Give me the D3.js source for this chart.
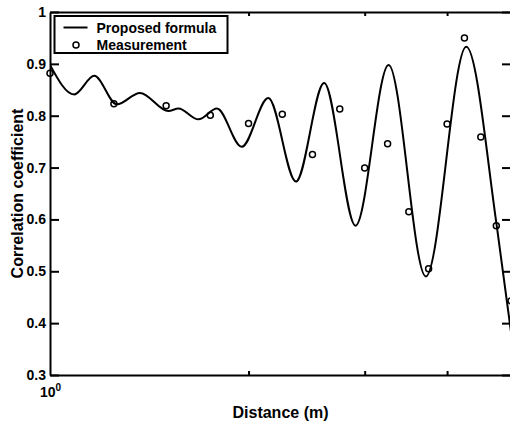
<!DOCTYPE html>
<html>
<head>
<meta charset="utf-8">
<script src="https://cdn.jsdelivr.net/npm/d3@7"></script>
<style>
  body { margin: 0; background: white; }
  text { font-family: 'Liberation Sans', Arial, sans-serif; font-weight: bold; fill: black; }
  .axis path, .axis line { stroke: black; }
  .axis path { stroke-width: 2; }
  .axis line { stroke-width: 2; }
</style>
</head>
<body>
<script>
// measured points (distance in m, correlation)
const measDist = [1, 1.25, 1.5, 1.75, 2, 2.25, 2.5, 2.75, 3, 3.25, 3.5, 3.75, 4, 4.25, 4.5, 4.75, 5]
const measCorr = [0.882, 0.823, 0.819, 0.801, 0.785, 0.803, 0.725, 0.813, 0.699, 0.746, 0.615, 0.505, 0.784, 0.950, 0.759, 0.588, 0.443]

const curveDist = [1, 1.088, 1.167, 1.263, 1.369, 1.512, 1.566, 1.679, 1.791, 1.953, 2.143, 2.36, 2.604, 2.906, 3.261, 3.714, 4.277, 4.757, 5]
const curveCorr = [0.898, 0.841, 0.877, 0.822, 0.844, 0.809, 0.814, 0.793, 0.814, 0.740, 0.834, 0.673, 0.863, 0.588, 0.898, 0.490, 0.933, 0.588, 0.383]

const yTickValues = [0.3, 0.4, 0.5, 0.6, 0.7, 0.8, 0.9, 1]
const xMinorTicks = [2, 3, 4]

var margin = { top: 12, right: -1, bottom: 50, left: 50 }
let width = 510 - margin.left - margin.right
let height = 425 - margin.top - margin.bottom

let svg = d3
  .select('body')
  .append('svg')
  .attr('width', 510)
  .attr('height', 425)
  .style('display', 'block')
  .append('g')
  .attr('transform', 'translate(' + margin.left + ',' + margin.top + ')')

const xPositionScale = d3.scaleLog().domain([1, 5]).range([0, width])
const yPositionScale = d3.scaleLinear().domain([0.3, 1]).range([height, 0])

svg
  .append('clipPath')
  .attr('id', 'plot-clip')
  .append('rect')
  .attr('width', width)
  .attr('height', height)

// box axes, ticks pointing inward
svg
  .append('g')
  .attr('class', 'axis y-axis')
  .call(
    d3
      .axisLeft(yPositionScale)
      .tickValues(yTickValues)
      .tickSize(-9)
      .tickSizeOuter(0)
      .tickPadding(4)
      .tickFormat(d => String(d))
  )
  .selectAll('text')
  .attr('font-size', 14)

svg
  .append('g')
  .attr('class', 'axis')
  .attr('transform', 'translate(' + width + ',0)')
  .call(
    d3
      .axisRight(yPositionScale)
      .tickValues(yTickValues)
      .tickSize(-9)
      .tickSizeOuter(0)
      .tickFormat('')
  )

svg
  .append('g')
  .attr('class', 'axis')
  .attr('transform', 'translate(0,' + height + ')')
  .call(
    d3
      .axisBottom(xPositionScale)
      .tickValues(xMinorTicks)
      .tickSize(-4)
      .tickSizeOuter(0)
      .tickFormat('')
  )

svg
  .append('g')
  .attr('class', 'axis')
  .call(
    d3
      .axisTop(xPositionScale)
      .tickValues(xMinorTicks)
      .tickSize(-4)
      .tickSizeOuter(0)
      .tickFormat('')
  )

// decade label 10^0
let decade = svg
  .append('text')
  .attr('x', xPositionScale(1) - 10)
  .attr('y', height + 22)
  .attr('font-size', 14)
decade.append('tspan').text('10')
decade
  .append('tspan')
  .attr('font-size', 10)
  .attr('dy', -6)
  .text('0')

// curve
const line = d3
  .line()
  .x((d, i) => xPositionScale(curveDist[i]))
  .y(d => yPositionScale(d))
  .curve(d3.curveMonotoneX)

svg
  .append('path')
  .datum(curveCorr)
  .attr('clip-path', 'url(#plot-clip)')
  .attr('d', line)
  .attr('fill', 'none')
  .attr('stroke', 'black')
  .attr('stroke-width', 2)

svg
  .selectAll('.meas')
  .data(measCorr)
  .enter()
  .append('circle')
  .attr('class', 'meas')
  .attr('cx', (d, i) => xPositionScale(measDist[i]))
  .attr('cy', d => yPositionScale(d))
  .attr('r', 3)
  .attr('fill', 'none')
  .attr('stroke', 'black')
  .attr('stroke-width', 1.5)

// axis titles
svg
  .append('text')
  .attr('x', width / 2)
  .attr('y', height + 43)
  .attr('text-anchor', 'middle')
  .attr('font-size', 16)
  .text('Distance (m)')

svg
  .append('text')
  .attr('transform', 'translate(' + (23 - margin.left) + ',' + height / 2 + ') rotate(-90)')
  .attr('text-anchor', 'middle')
  .attr('font-size', 16)
  .text('Correlation coefficient')

// legend
let legend = svg.append('g').attr('transform', 'translate(4.5, 4)')

legend
  .append('rect')
  .attr('width', 173)
  .attr('height', 37)
  .attr('fill', 'white')
  .attr('stroke', 'black')
  .attr('stroke-width', 2)

legend
  .append('line')
  .attr('x1', 9)
  .attr('x2', 33)
  .attr('y1', 11.5)
  .attr('y2', 11.5)
  .attr('stroke', 'black')
  .attr('stroke-width', 2)

legend
  .append('circle')
  .attr('cx', 21.5)
  .attr('cy', 29)
  .attr('r', 3)
  .attr('fill', 'none')
  .attr('stroke', 'black')
  .attr('stroke-width', 1.5)

legend
  .append('text')
  .attr('x', 42)
  .attr('y', 17)
  .attr('font-size', 14)
  .text('Proposed formula')

legend
  .append('text')
  .attr('x', 42)
  .attr('y', 33.5)
  .attr('font-size', 14)
  .text('Measurement')
</script>
</body>
</html>
